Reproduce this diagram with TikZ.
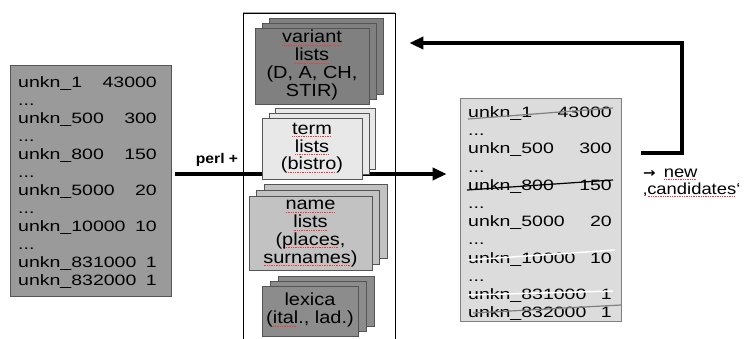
\documentclass[tikz,border=0pt]{standalone}
\usepackage{fontspec}
\setmainfont{Liberation Sans}
\newfontfamily\symfont{DejaVu Sans}
\usepackage{graphicx}
\usetikzlibrary{arrows.meta,calc}
\definecolor{leftfill}{HTML}{9A9A9A}
\definecolor{rightfill}{HTML}{DCDCDC}
\definecolor{varfill}{HTML}{808080}
\definecolor{termfill}{HTML}{E8E8E8}
\definecolor{namefill}{HTML}{C2C2C2}
\definecolor{lexfill}{HTML}{8C8C8C}
\definecolor{edge}{HTML}{555555}
\newsavebox\sqbox
\newcommand\squig[1]{\sbox\sqbox{#1}\rlap{\color{red!80}\leaders\hbox to 1.5pt{\hss\rule[-2.6pt]{0.8pt}{0.6pt}\hss}\hskip\wd\sqbox}\usebox\sqbox}
\newcommand\lt[1]{\scalebox{1.3}[1]{#1}}
\newcommand\lbl[1]{\scalebox{1.14}[1]{\begin{tabular}{@{}c@{}}#1\end{tabular}}}
\begin{document}
\begin{tikzpicture}[x=1pt,y=-1pt,
  lst/.style={font=\fontsize{15}{18}\selectfont, inner sep=0pt},
  listbox/.style={draw=edge, line width=0.8pt, inner sep=0pt},
  stackbox/.style={draw=edge, line width=0.7pt, inner sep=0pt, font=\fontsize{17.5}{17.5}\selectfont},
  fat/.style={line width=4pt},
  tip/.style={-{Triangle[length=14pt,width=12pt]}}]
\useasboundingbox (0,0) rectangle (752,338);

% side list boxes
\node[listbox, fill=leftfill, minimum width=161pt, minimum height=231pt] (L) at (90.5,180.5) {};
\node[listbox, draw=gray, fill=rightfill, minimum width=161pt, minimum height=223pt] (R) at (540.5,209.5) {};

% central frame
\node[draw=black, line width=0.7pt, minimum width=152pt, minimum height=332pt, inner sep=0pt] (F) at (319,179) {};
\draw[gray!70, line width=1.6pt] (F.north west) -- (F.north east);

% main arrow
\coordinate (ma) at ([xshift=4pt]L.east |- 0,174);
\coordinate (mb) at ([xshift=-13pt]R.west |- 0,174);
\draw[fat, tip] (ma) -- (mb);
\node[font=\bfseries\fontsize{14}{14}\selectfont, inner sep=0pt] (perl) at (217,160) {\scalebox{1.12}[1]{perl +}};

% feedback arrow
\coordinate (fs) at ([xshift=20pt]R.east |- 0,153);
\coordinate (fc) at (682,153);
\coordinate (fe) at ([xshift=14pt]F.east |- 0,43);
\draw[fat, tip] (fs) -- (fc) |- (fe);

% variant lists
\node[stackbox, fill=varfill, minimum width=114pt, minimum height=76pt] (v3) at (326,56) {};
\node[stackbox, fill=varfill, minimum width=114pt, minimum height=76pt] (v2) at (319,61) {};
\node[stackbox, fill=varfill, minimum width=114pt, minimum height=76pt] (v1) at (312,66) {\lbl{\squig{variant}\\\squig{lists}\\(D, A, CH,\\STIR)}};

% term lists
\node[stackbox, fill=termfill, minimum width=100pt, minimum height=61pt] (t3) at (325.5,138.5) {};
\node[stackbox, fill=termfill, minimum width=100pt, minimum height=61pt] (t2) at (319,143.5) {};
\node[stackbox, fill=termfill, minimum width=100pt, minimum height=61pt] (t1) at (312,148.5) {\lbl{\squig{term}\\\squig{lists}\\(\squig{bistro})}};

% name lists
\node[stackbox, fill=namefill, minimum width=123pt, minimum height=74pt] (n3) at (325.5,221) {};
\node[stackbox, fill=namefill, minimum width=123pt, minimum height=74pt] (n2) at (318,227) {};
\node[stackbox, fill=namefill, minimum width=123pt, minimum height=74pt] (n1) at (310.5,233) {\lbl{\squig{name}\\\squig{lists}\\(\squig{places},\\\squig{surnames})}};

% lexica
\node[stackbox, fill=lexfill, minimum width=96pt, minimum height=50pt] (x3) at (326,301) {};
\node[stackbox, fill=lexfill, minimum width=96pt, minimum height=50pt] (x2) at (318,306) {};
\node[stackbox, fill=lexfill, minimum width=96pt, minimum height=50pt] (x1) at (310,311) {\lbl{lexica\\(\squig{ital}., lad.)}};

% left list text
\foreach \k/\a/\b in {0/unkn\_1/43000, 2/unkn\_500/300, 4/unkn\_800/150, 6/unkn\_5000/20, 8/unkn\_10000/10, 10/unkn\_831000/1, 11/unkn\_832000/1} {
  \node[lst, anchor=base west] (la\k) at (18,87.5+18*\k) {\lt{\a}};
  \node[lst, anchor=base east] (lb\k) at (157,87.5+18*\k) {\lt{\b}};
}
\foreach \k in {1,3,5,7,9} {
  \node[lst, anchor=base west] (ld\k) at (18,87.5+18*\k) {\lt{...}};
}

% right list text
\foreach \k/\a/\b in {0/unkn\_1/43000, 2/unkn\_500/300, 4/unkn\_800/150, 6/unkn\_5000/20, 8/unkn\_10000/10, 10/unkn\_831000/1, 11/unkn\_832000/1} {
  \node[lst, anchor=base west] (ra\k) at (468,117.5+18.2*\k) {\lt{\a}};
  \node[lst, anchor=base east] (rb\k) at (612,117.5+18.2*\k) {\lt{\b}};
}
\foreach \k in {1,3,5,7,9} {
  \node[lst, anchor=base west] (rd\k) at (468,117.5+18.2*\k) {\lt{...}};
}

% strike-through lines
\draw[gray, line width=1.2pt] (468,119) -- (613,108);
\draw[black, line width=1.2pt] (467,190) -- (613,180);
\draw[white, line width=1.5pt] (468,260) -- (615,250);
\draw[white, line width=1.5pt] (468,295) -- (613,291);
\draw[gray, line width=1.2pt] (473,313) -- (621,305);

% new candidates
\node[font=\fontsize{16}{16}\selectfont, anchor=base west, inner sep=0pt] (nw) at (643,177) {\scalebox{1.15}[1]{{\symfont\bfseries\fontsize{13}{13}\selectfont →}\hspace{7pt}\squig{new}}};
\node[font=\fontsize{16}{16}\selectfont, anchor=base west, inner sep=0pt] (cd) at (643,194) {\scalebox{1.15}[1]{‚\squig{candidates}‘}};
\end{tikzpicture}
\end{document}
